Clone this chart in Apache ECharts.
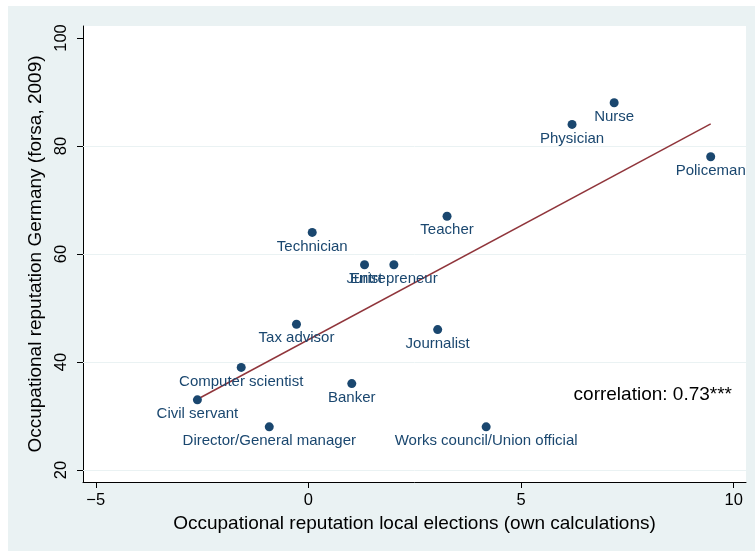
<!DOCTYPE html>
<html>
<head>
<meta charset="utf-8">
<script src="https://cdn.jsdelivr.net/npm/echarts@6/dist/echarts.min.js"></script>
<style>
  html, body { margin: 0; padding: 0; background: #fff; }
  #main { width: 755px; height: 551px; }
</style>
</head>
<body>
<div id="main"></div>
<script>
// occupations and the two reputation measures
const occupations = ['Nurse', 'Physician', 'Policeman', 'Teacher', 'Technician', 'Jurist', 'Entrepreneur',
  'Tax advisor', 'Journalist', 'Computer scientist', 'Banker', 'Civil servant',
  'Director/General manager', 'Works council/Union official'];
const localRep = [7.19, 6.20, 9.46, 3.26, 0.09, 1.32, 2.01, -0.28, 3.04, -1.58, 1.02, -2.61, -0.92, 4.18];
const forsaRep = [88, 84, 78, 67, 64, 58, 58, 47, 46, 39, 36, 33, 28, 28];

// linear fit (end points)
const fitX = [-2.61, 9.46];
const fitY = [33.1, 84.1];

const xTicks = [-5, 0, 5, 10];
const yTicks = [20, 40, 60, 80, 100];
const yGrid = [20, 40, 60, 80];

const navy = '#1a476f';
const maroon = '#90353b';
const bg = '#eaf2f3';
const font = 'Liberation Sans, Arial, sans-serif';

const chart = echarts.init(document.getElementById('main'), null, { renderer: 'canvas' });

const points = occupations.map((name, i) => ({ name: name, value: [localRep[i], forsaRep[i]] }));

const option = {
  backgroundColor: bg,
  animation: false,
  textStyle: { fontFamily: font },
  graphic: [
    { type: 'rect', left: 0, top: 0, shape: { width: 755, height: 6 }, style: { fill: '#fff' } },
    { type: 'rect', left: 0, top: 0, shape: { width: 8, height: 551 }, style: { fill: '#fff' } },
    {
      type: 'text', right: 23, top: 385,
      style: { text: 'correlation: 0.73***', fill: '#000', font: '19px ' + font }
    }
  ],
  grid: {
    left: 83, right: 9, top: 26, bottom: 69,
    show: true, backgroundColor: '#fff', borderWidth: 0
  },
  xAxis: {
    type: 'value', min: -5.30, max: 10.29,
    name: 'Occupational reputation local elections (own calculations)',
    nameLocation: 'middle', nameGap: 30,
    nameTextStyle: { fontSize: 19, color: '#000', fontFamily: font },
    axisLine: { show: true, onZero: false, lineStyle: { color: '#000', width: 1 } },
    axisTick: { show: true, length: 6, customValues: xTicks, lineStyle: { color: '#000' } },
    axisLabel: {
      customValues: xTicks, margin: 10, fontSize: 16.5, color: '#000', fontFamily: font,
      formatter: v => (v < 0 ? '\u2212' + Math.abs(v) : String(v))
    },
    splitLine: { show: false }
  },
  yAxis: {
    type: 'value', min: 17.78, max: 102.22,
    name: 'Occupational reputation Germany (forsa, 2009)',
    nameLocation: 'middle', nameGap: 32, nameRotate: 90,
    nameTextStyle: { fontSize: 19, color: '#000', fontFamily: font },
    axisLine: { show: true, onZero: false, lineStyle: { color: '#000', width: 1 } },
    axisTick: { show: true, length: 6, customValues: yTicks, lineStyle: { color: '#000' } },
    axisLabel: { customValues: yTicks, rotate: 90, margin: 13, fontSize: 16.5, color: '#000', fontFamily: font },
    splitLine: { show: false }
  },
  series: [
    {
      type: 'line',
      data: [],
      z: 1,
      markLine: {
        silent: true, symbol: 'none', animation: false, z: 1,
        label: { show: false },
        lineStyle: { color: bg, width: 1, type: 'solid' },
        data: yGrid.map(v => ({ yAxis: v }))
      }
    },
    {
      type: 'line',
      data: fitX.map((x, i) => [x, fitY[i]]),
      showSymbol: false,
      lineStyle: { color: maroon, width: 1.5 },
      z: 6
    },
    {
      type: 'scatter',
      data: points,
      symbolSize: 9,
      itemStyle: { color: navy, opacity: 1 },
      z: 7,
      label: {
        show: true, position: 'bottom', distance: 2,
        formatter: p => p.name,
        color: navy, fontSize: 15, fontFamily: font
      }
    }
  ]
};

chart.setOption(option);
</script>
</body>
</html>
